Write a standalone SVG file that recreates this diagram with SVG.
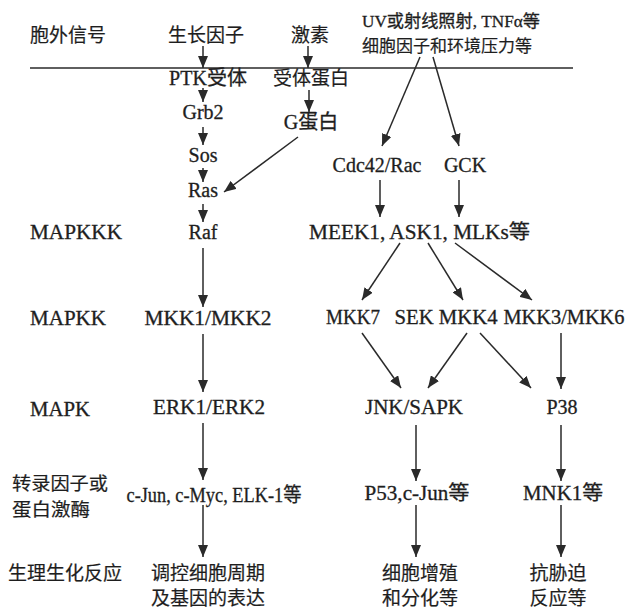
<svg xmlns="http://www.w3.org/2000/svg" width="626" height="609" viewBox="0 0 626 609">
<defs>
<marker id="ah" markerUnits="userSpaceOnUse" markerWidth="12" markerHeight="10" viewBox="0 0 12 10" refX="12" refY="5" orient="auto">
<path d="M0,0 L12,5 L0,10 Z" fill="#2a2a2a"/>
</marker>
</defs>
<style>
text{font-family:"Liberation Serif","Noto Sans CJK SC",serif;font-size:20px;fill:#1e1e1e;stroke:#1e1e1e;stroke-width:0.3}
.cn{font-family:"Noto Sans CJK SC","Liberation Sans",sans-serif;font-size:19px;stroke-width:0.2}
.cn2{font-size:18px}
.m{text-anchor:middle}
.sm{font-size:17.5px}
#connectors line{stroke:#2a2a2a;stroke-width:1.5;marker-end:url(#ah)}
</style>
<rect width="626" height="609" fill="#ffffff"/>
<line x1="30" y1="68" x2="573" y2="68" stroke="#2a2a2a" stroke-width="1.6"/>
<g id="labels">
<text class="cn" x="30" y="42">胞外信号</text>
<text x="30" y="239" textLength="92" lengthAdjust="spacingAndGlyphs">MAPKKK</text>
<text x="30" y="325" textLength="76" lengthAdjust="spacingAndGlyphs">MAPKK</text>
<text x="30" y="416" textLength="60" lengthAdjust="spacingAndGlyphs">MAPK</text>
<text class="cn cn2" x="12" y="490" textLength="96" lengthAdjust="spacingAndGlyphs">转录因子或</text>
<text class="cn cn2" x="12" y="516" textLength="78" lengthAdjust="spacingAndGlyphs">蛋白激酶</text>
<text class="cn" x="8" y="580">生理生化反应</text>
</g>
<g id="n-growth"><text class="cn m" x="206" y="42">生长因子</text></g>
<g id="n-hormone"><text class="cn m" x="310" y="42">激素</text></g>
<g id="n-stress"><text class="sm" x="362" y="27" textLength="178" lengthAdjust="spacingAndGlyphs">UV或射线照射, TNFα等</text><text class="cn sm" x="362" y="52" textLength="170" lengthAdjust="spacingAndGlyphs">细胞因子和环境压力等</text></g>
<g id="n-ptk"><text class="m" x="208" y="85">PTK受体</text></g>
<g id="n-receptor"><text class="cn m" x="311" y="85">受体蛋白</text></g>
<g id="n-grb2"><text class="m" x="203" y="119">Grb2</text></g>
<g id="n-gprotein"><text class="m" x="311" y="129">G蛋白</text></g>
<g id="n-sos"><text class="m" x="203" y="162">Sos</text></g>
<g id="n-ras"><text class="m" x="203" y="197">Ras</text></g>
<g id="n-cdc42"><text class="m" x="377" y="172">Cdc42/Rac</text></g>
<g id="n-gck"><text class="m" x="465" y="172">GCK</text></g>
<g id="n-raf"><text class="m" x="203" y="239">Raf</text></g>
<g id="n-meek"><text x="309" y="239" textLength="221" lengthAdjust="spacingAndGlyphs">MEEK1, ASK1, MLKs等</text></g>
<g id="n-mkk12"><text class="m" x="208" y="325" textLength="127" lengthAdjust="spacingAndGlyphs">MKK1/MKK2</text></g>
<g id="n-mkk7"><text class="m" x="353" y="324" textLength="54" lengthAdjust="spacingAndGlyphs">MKK7</text></g>
<g id="n-mkk4"><text class="m" x="446" y="324" textLength="103" lengthAdjust="spacingAndGlyphs">SEK MKK4</text></g>
<g id="n-mkk36"><text class="m" x="564" y="324" textLength="121" lengthAdjust="spacingAndGlyphs">MKK3/MKK6</text></g>
<g id="n-erk"><text class="m" x="209" y="414" textLength="112" lengthAdjust="spacingAndGlyphs">ERK1/ERK2</text></g>
<g id="n-jnk"><text class="m" x="414" y="414" textLength="98" lengthAdjust="spacingAndGlyphs">JNK/SAPK</text></g>
<g id="n-p38"><text class="m" x="562" y="414">P38</text></g>
<g id="n-cjun"><text class="m" x="214" y="502" textLength="175" lengthAdjust="spacingAndGlyphs">c-Jun, c-Myc, ELK-1等</text></g>
<g id="n-p53"><text class="m" x="417" y="500" textLength="105" lengthAdjust="spacingAndGlyphs">P53,c-Jun等</text></g>
<g id="n-mnk1"><text class="m" x="563" y="500" textLength="80" lengthAdjust="spacingAndGlyphs">MNK1等</text></g>
<g id="n-cycle"><text class="cn m" x="208" y="580">调控细胞周期</text><text class="cn m" x="208" y="605">及基因的表达</text></g>
<g id="n-prolif"><text class="cn m" x="420" y="580">细胞增殖</text><text class="cn m" x="420" y="605">和分化等</text></g>
<g id="n-antistress"><text class="cn m" x="558" y="580">抗胁迫</text><text class="cn m" x="558" y="605">反应等</text></g>
<g id="connectors">
<line x1="203" y1="46" x2="203" y2="68"/>
<line x1="308" y1="46" x2="308" y2="68"/>
<line x1="203" y1="88" x2="203" y2="102"/>
<line x1="309" y1="90" x2="309" y2="112"/>
<line x1="203" y1="127" x2="203" y2="145"/>
<line x1="203" y1="168" x2="203" y2="182"/>
<line x1="298" y1="137" x2="224" y2="192"/>
<line x1="420" y1="57" x2="382" y2="146"/>
<line x1="433" y1="57" x2="459" y2="146"/>
<line x1="380" y1="180" x2="380" y2="217"/>
<line x1="459" y1="180" x2="459" y2="217"/>
<line x1="203" y1="204" x2="203" y2="222"/>
<line x1="203" y1="248" x2="203" y2="307"/>
<line x1="400" y1="243" x2="362" y2="300"/>
<line x1="428" y1="243" x2="463" y2="300"/>
<line x1="455" y1="243" x2="532" y2="300"/>
<line x1="203" y1="334" x2="203" y2="392"/>
<line x1="362" y1="333" x2="401" y2="388"/>
<line x1="467" y1="333" x2="428" y2="388"/>
<line x1="480" y1="333" x2="531" y2="388"/>
<line x1="561" y1="333" x2="561" y2="389"/>
<line x1="203" y1="423" x2="203" y2="480"/>
<line x1="416" y1="425" x2="416" y2="481"/>
<line x1="561" y1="425" x2="561" y2="481"/>
<line x1="203" y1="505" x2="203" y2="557"/>
<line x1="416" y1="505" x2="416" y2="557"/>
<line x1="561" y1="505" x2="561" y2="557"/>
</g>
</svg>
